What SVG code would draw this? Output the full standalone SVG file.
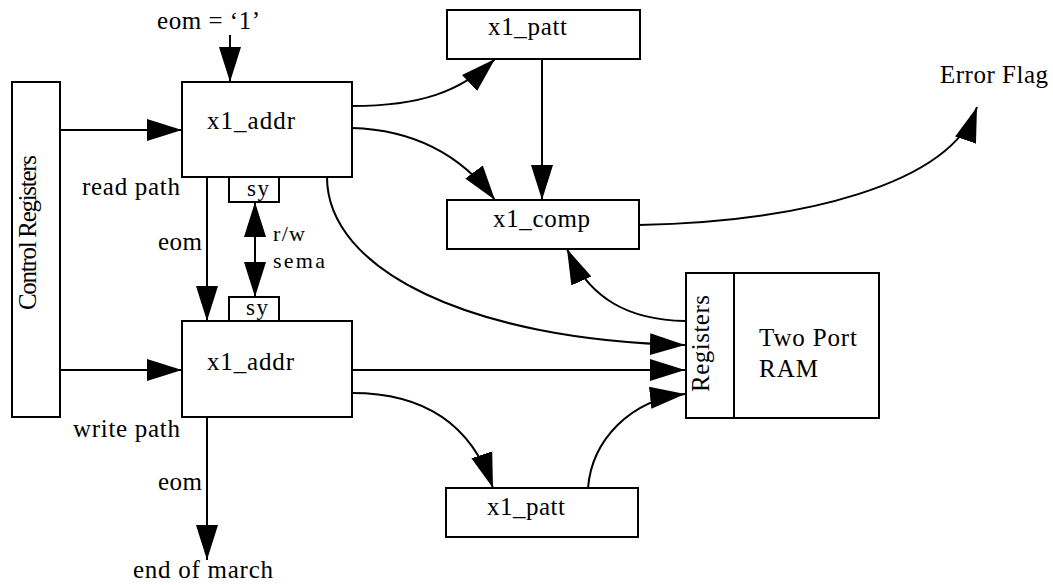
<svg xmlns="http://www.w3.org/2000/svg" width="1053" height="585" viewBox="0 0 1053 585">
<style>
.box{fill:#fff;stroke:#000;stroke-width:2}
.ln{fill:none;stroke:#000;stroke-width:2}
.arr{marker-end:url(#ah)}
text{font-family:"Liberation Serif","Times New Roman",serif;font-size:25px;fill:#000}
.sm{font-size:23px}
.xs{font-size:22px}
</style>
<defs>
<marker id="ah" markerUnits="userSpaceOnUse" markerWidth="36" markerHeight="24" refX="35" refY="12" orient="auto-start-reverse" viewBox="0 0 36 24">
<path d="M0,1 L35,12 L0,23 z" fill="#000"/>
</marker>
</defs>
<rect width="1053" height="585" fill="#fff"/>

<g id="connectors">
<path class="ln arr" d="M60,130 L182,130"/>
<path class="ln arr" d="M60,370 L182,370"/>
<path class="ln arr" d="M230,35 L230,82"/>
<path class="ln arr" d="M207,177 L207,321"/>
<path class="ln arr" d="M255,202 L255,297" marker-start="url(#ah)"/>
<path class="ln arr" d="M207,417 L207,560"/>
<path class="ln arr" d="M352,106 C420,106 460,92 495,59"/>
<path class="ln arr" d="M352,128 C420,130 465,160 495,200"/>
<path class="ln arr" d="M542,59 L542,200"/>
<path class="ln arr" d="M639,225 C800,222 950,185 977,107"/>
<path class="ln arr" d="M685,321 C630,320 590,300 567,249"/>
<path class="ln arr" d="M327,177 C327,270 470,340 685,345"/>
<path class="ln arr" d="M352,370 L685,370"/>
<path class="ln arr" d="M352,393 C420,393 470,420 493,488"/>
<path class="ln arr" d="M588,488 C592,440 630,400 685,394"/>
</g>

<g id="control-registers">
<rect class="box" x="12" y="82" width="48" height="335"/>
<text transform="translate(36,310) rotate(-90)" textLength="155">Control Registers</text>
</g>

<g id="x1_addr_read">
<rect class="box" x="182" y="82" width="170" height="95"/>
<text x="207" y="129" textLength="88">x1_addr</text>
</g>
<g id="sy_read">
<rect class="box" x="229" y="177" width="50" height="25"/>
<text class="sm" x="247" y="196" textLength="22">sy</text>
</g>

<g id="sy_write">
<rect class="box" x="229" y="297" width="50" height="24"/>
<text class="sm" x="246" y="315" textLength="22">sy</text>
</g>
<g id="x1_addr_write">
<rect class="box" x="182" y="321" width="170" height="96"/>
<text x="207" y="370" textLength="87">x1_addr</text>
</g>

<g id="x1_patt_top">
<rect class="box" x="447" y="10" width="193" height="49"/>
<text x="488" y="35" textLength="79">x1_patt</text>
</g>
<g id="x1_comp">
<rect class="box" x="447" y="200" width="192" height="49"/>
<text x="493" y="227" textLength="97">x1_comp</text>
</g>
<g id="x1_patt_bottom">
<rect class="box" x="446" y="488" width="192" height="49"/>
<text x="487" y="515" textLength="78">x1_patt</text>
</g>

<g id="two-port-ram">
<rect class="box" x="686" y="273" width="193" height="145"/>
<line class="ln" x1="734" y1="273" x2="734" y2="418"/>
<text transform="translate(709,392) rotate(-90)" textLength="97">Registers</text>
<text x="759" y="346" textLength="98">Two Port</text>
<text x="759" y="377" textLength="59">RAM</text>
</g>

<g id="labels">
<text x="157" y="29" textLength="103">eom = ‘1’</text>
<text x="82" y="195" textLength="98">read path</text>
<text x="158" y="250" textLength="44">eom</text>
<text class="xs" x="273" y="241" textLength="32">r/w</text>
<text class="xs" x="273" y="268" textLength="52">sema</text>
<text x="73" y="437" textLength="107">write path</text>
<text x="158" y="490" textLength="44">eom</text>
<text x="133" y="578" textLength="140">end of march</text>
<text x="940" y="83" textLength="108">Error Flag</text>
</g>
</svg>
